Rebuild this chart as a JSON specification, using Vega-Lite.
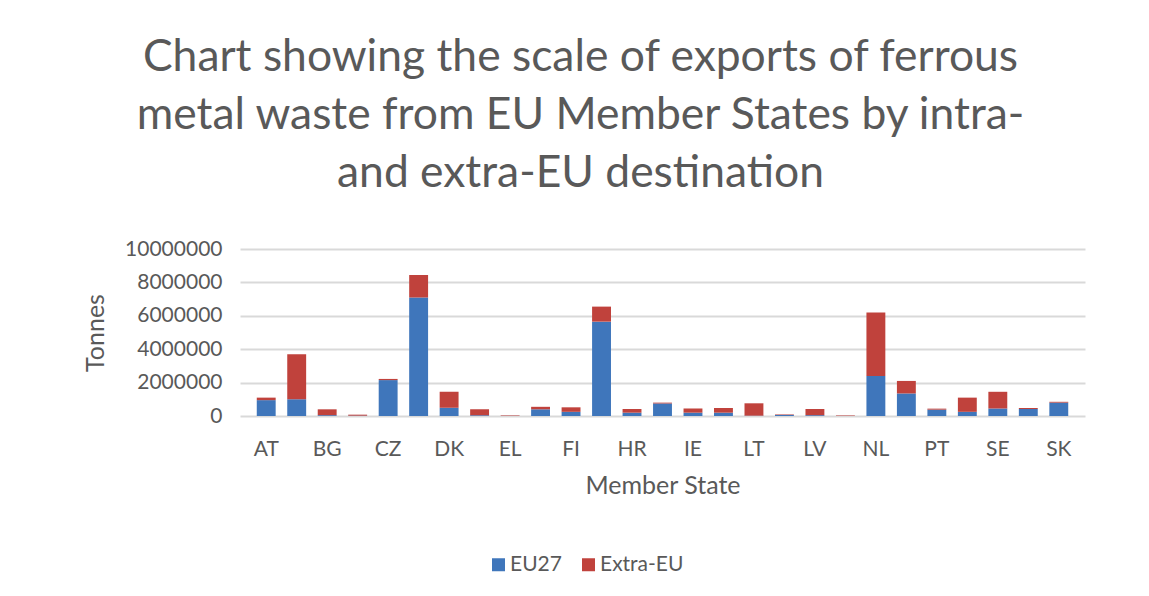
{
  "$schema": "https://vega.github.io/schema/vega-lite/v6.json",
  "width": 845,
  "height": 167,
  "autosize": "none",
  "padding": {"left": 240, "top": 249, "right": 64, "bottom": 180},
  "background": "white",
  "title": {
    "text": ["Chart showing the scale of exports of ferrous", "metal waste from EU Member States by intra-", "and extra-EU destination"],
    "anchor": "middle",
    "frame": "group",
    "dx": -82,
    "offset": 42,
    "font": "Lato",
    "fontSize": 44.4,
    "fontWeight": "normal",
    "color": "#595959",
    "lineHeight": 58
  },
  "data": {
    "values": [
      {"state": "AT", "series": "EU27", "tonnes": 950000},
      {"state": "AT", "series": "Extra-EU", "tonnes": 150000},
      {"state": "BE", "series": "EU27", "tonnes": 1000000},
      {"state": "BE", "series": "Extra-EU", "tonnes": 2700000},
      {"state": "BG", "series": "EU27", "tonnes": 50000},
      {"state": "BG", "series": "Extra-EU", "tonnes": 350000},
      {"state": "CY", "series": "EU27", "tonnes": 20000},
      {"state": "CY", "series": "Extra-EU", "tonnes": 60000},
      {"state": "CZ", "series": "EU27", "tonnes": 2150000},
      {"state": "CZ", "series": "Extra-EU", "tonnes": 70000},
      {"state": "DE", "series": "EU27", "tonnes": 7100000},
      {"state": "DE", "series": "Extra-EU", "tonnes": 1350000},
      {"state": "DK", "series": "EU27", "tonnes": 500000},
      {"state": "DK", "series": "Extra-EU", "tonnes": 950000},
      {"state": "EE", "series": "EU27", "tonnes": 50000},
      {"state": "EE", "series": "Extra-EU", "tonnes": 350000},
      {"state": "EL", "series": "EU27", "tonnes": 5000},
      {"state": "EL", "series": "Extra-EU", "tonnes": 30000},
      {"state": "ES", "series": "EU27", "tonnes": 400000},
      {"state": "ES", "series": "Extra-EU", "tonnes": 150000},
      {"state": "FI", "series": "EU27", "tonnes": 250000},
      {"state": "FI", "series": "Extra-EU", "tonnes": 270000},
      {"state": "FR", "series": "EU27", "tonnes": 5650000},
      {"state": "FR", "series": "Extra-EU", "tonnes": 900000},
      {"state": "HR", "series": "EU27", "tonnes": 200000},
      {"state": "HR", "series": "Extra-EU", "tonnes": 220000},
      {"state": "HU", "series": "EU27", "tonnes": 750000},
      {"state": "HU", "series": "Extra-EU", "tonnes": 50000},
      {"state": "IE", "series": "EU27", "tonnes": 200000},
      {"state": "IE", "series": "Extra-EU", "tonnes": 250000},
      {"state": "IT", "series": "EU27", "tonnes": 200000},
      {"state": "IT", "series": "Extra-EU", "tonnes": 280000},
      {"state": "LT", "series": "EU27", "tonnes": 20000},
      {"state": "LT", "series": "Extra-EU", "tonnes": 740000},
      {"state": "LU", "series": "EU27", "tonnes": 65000},
      {"state": "LU", "series": "Extra-EU", "tonnes": 30000},
      {"state": "LV", "series": "EU27", "tonnes": 50000},
      {"state": "LV", "series": "Extra-EU", "tonnes": 370000},
      {"state": "MT", "series": "EU27", "tonnes": 3000},
      {"state": "MT", "series": "Extra-EU", "tonnes": 30000},
      {"state": "NL", "series": "EU27", "tonnes": 2400000},
      {"state": "NL", "series": "Extra-EU", "tonnes": 3800000},
      {"state": "PL", "series": "EU27", "tonnes": 1350000},
      {"state": "PL", "series": "Extra-EU", "tonnes": 750000},
      {"state": "PT", "series": "EU27", "tonnes": 380000},
      {"state": "PT", "series": "Extra-EU", "tonnes": 60000},
      {"state": "RO", "series": "EU27", "tonnes": 250000},
      {"state": "RO", "series": "Extra-EU", "tonnes": 850000},
      {"state": "SE", "series": "EU27", "tonnes": 450000},
      {"state": "SE", "series": "Extra-EU", "tonnes": 1000000},
      {"state": "SI", "series": "EU27", "tonnes": 420000},
      {"state": "SI", "series": "Extra-EU", "tonnes": 60000},
      {"state": "SK", "series": "EU27", "tonnes": 800000},
      {"state": "SK", "series": "Extra-EU", "tonnes": 50000}
    ]
  },
  "mark": {"type": "bar"},
  "encoding": {
    "x": {
      "field": "state",
      "type": "nominal",
      "sort": null,
      "scale": {"paddingInner": 0.38, "paddingOuter": 0.55},
      "axis": {
        "title": "Member State",
        "values": ["AT", "BG", "CZ", "DK", "EL", "FI", "HR", "IE", "LT", "LV", "NL", "PT", "SE", "SK"],
        "labelAngle": 0,
        "labelPadding": 22,
        "titlePadding": 14,
        "domain": false,
        "ticks": false
      }
    },
    "y": {
      "field": "tonnes",
      "type": "quantitative",
      "stack": "zero",
      "scale": {"domain": [0, 10000000], "nice": false},
      "axis": {
        "title": "Tonnes",
        "values": [0, 2000000, 4000000, 6000000, 8000000, 10000000],
        "format": "d",
        "labelPadding": 18,
        "titlePadding": 16,
        "domain": false,
        "ticks": false,
        "grid": true
      }
    },
    "color": {
      "field": "series",
      "type": "nominal",
      "scale": {"domain": ["EU27", "Extra-EU"], "range": ["#3f76bb", "#c0423c"]},
      "legend": {
        "title": null,
        "orient": "none",
        "direction": "horizontal",
        "legendX": 248,
        "legendY": 305,
        "symbolType": "square",
        "symbolSize": 169,
        "symbolStrokeWidth": 0,
        "labelOffset": 1,
        "columnPadding": 16,
        "padding": 0
      }
    },
    "order": {"field": "series", "sort": "ascending"}
  },
  "config": {
    "view": {"stroke": null},
    "font": "Lato",
    "axis": {
      "labelFont": "Lato",
      "labelFontSize": 21,
      "labelColor": "#595959",
      "titleFont": "Lato",
      "titleFontSize": 25,
      "titleFontWeight": "normal",
      "titleColor": "#595959",
      "gridColor": "#d9d9d9",
      "gridWidth": 2
    },
    "legend": {
      "labelFont": "Lato",
      "labelFontSize": 21,
      "labelColor": "#595959"
    }
  }
}
